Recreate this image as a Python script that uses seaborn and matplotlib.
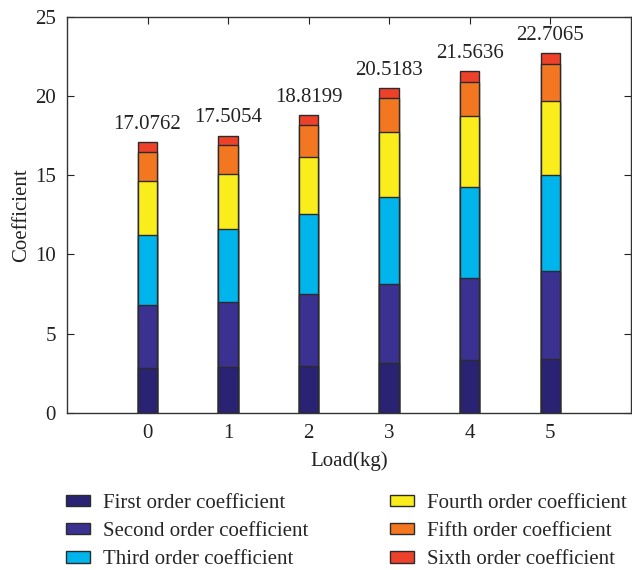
import matplotlib
matplotlib.use("Agg")
import matplotlib.pyplot as plt
from matplotlib.patches import Patch
import pandas as pd
import seaborn as sns

# Load levels and the six polynomial coefficient contributions per load
loads = ["0", "1", "2", "3", "4", "5"]
first = [2.80, 2.90, 2.94, 3.15, 3.30, 3.38]
second = [4.03, 4.12, 4.58, 4.98, 5.23, 5.57]
third = [4.41, 4.57, 5.02, 5.48, 5.75, 6.05]
fourth = [3.40, 3.49, 3.65, 4.12, 4.46, 4.68]
fifth = [1.81, 1.83, 2.00, 2.16, 2.16, 2.34]
sixth = [0.6262, 0.5954, 0.6299, 0.6283, 0.6636, 0.6865]
series_names = ["First order coefficient", "Second order coefficient",
                "Third order coefficient", "Fourth order coefficient",
                "Fifth order coefficient", "Sixth order coefficient"]
colors = ["#2a2373", "#3a3191", "#00b4ec", "#f9ed1b", "#f27720", "#ee412a"]

sns.set_style("ticks")
plt.rcParams["font.family"] = ["Liberation Serif", "DejaVu Serif"]
plt.rcParams["font.size"] = 15

fig = plt.figure(figsize=(6.32, 5.70), dpi=100)
ax = fig.add_axes([0.106, 0.276, 0.892, 0.694])

# Cumulative stack heights, drawn from the tallest layer down
layers = [first, second, third, fourth, fifth, sixth]
df = pd.DataFrame({"Load": loads})
running = [0.0] * len(loads)
for name, vals in zip(series_names, layers):
    running = [r + v for r, v in zip(running, vals)]
    df[name] = running

edge = "#2b2b2b"
for name, col in reversed(list(zip(series_names, colors))):
    sns.barplot(data=df, x="Load", y=name, order=loads, color=col,
                saturation=1, width=0.24, edgecolor=edge, linewidth=1.0,
                ax=ax, zorder=2)

# Total value above each stack
totals = df[series_names[-1]].tolist()
for i, t in enumerate(totals):
    ax.annotate(f"{t:.4f}", xy=(i, t), xytext=(0, 6), textcoords="offset points",
                ha="center", va="bottom", fontsize=15, color="#222222")

ax.set_xlim(-1, 6)
ax.set_ylim(0, 25)
ax.set_yticks([0, 5, 10, 15, 20, 25])
ax.set_xlabel("Load(kg)", fontsize=15, labelpad=6, color="#222222")
ax.set_ylabel("Coefficient", fontsize=15, labelpad=3, color="#222222")
ax.tick_params(direction="in", length=5, width=0.8, top=True, right=True,
               labelsize=15, colors="#222222", pad=8)
for s in ax.spines.values():
    s.set_visible(True)
    s.set_linewidth(1.0)
    s.set_color("#333333")

handles = [Patch(facecolor=c, edgecolor=edge, linewidth=1.0) for c in colors]
fig.legend(handles, series_names, ncol=2, loc="upper left",
           bbox_to_anchor=(0.104, 0.134), frameon=False, fontsize=15,
           handlelength=1.15, handleheight=0.45, handletextpad=0.65,
           labelspacing=0.45, columnspacing=3.9, borderpad=0, borderaxespad=0)

fig.savefig("out.png", dpi=100)
